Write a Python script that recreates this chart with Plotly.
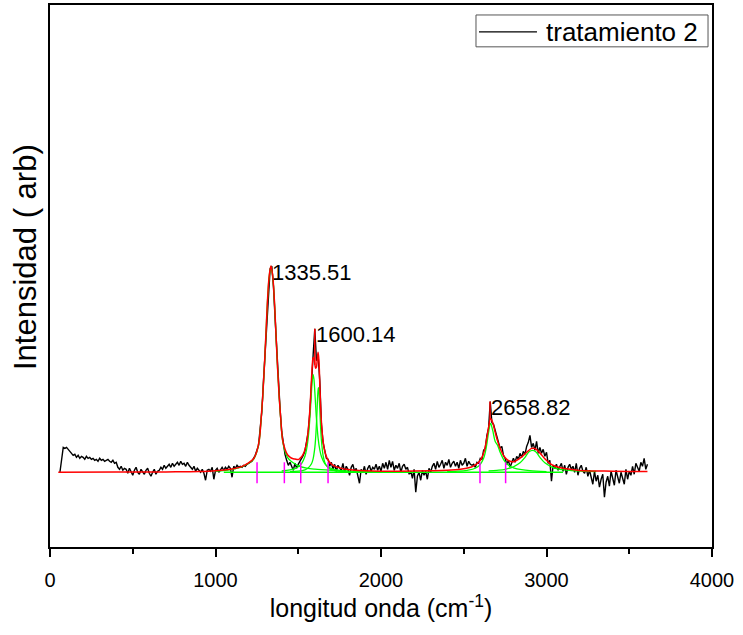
import plotly.graph_objects as go

# ---------------- data ----------------
# measured spectrum (sampled every 10 cm-1 from 60 to 3610)
wavenumber = list(range(60, 3620, 10))
intensity = [
    0, 14, 25, 24, 25, 23, 21, 19, 17, 18,
    15, 17, 14, 16, 15, 13, 16, 14, 15, 13,
    14, 12, 13, 11, 14, 12, 13, 11, 12, 13,
    11, 10, 12, 9, 10, 5, 3, 6, 2, 4,
    3, -1, 4, 1, -3, 2, 5, 0, -2, 3,
    1, -2, 2, 4, -1, -4, 0, 3, -2, 1,
    2, 5, 3, 7, 4, 6, 8, 5, 9, 6,
    8, 10, 7, 11, 8, 9, 6, 10, 7, 5,
    3, 6, 1, 4, 2, 0, 3, -1, -8, 2,
    3, 1, 5, -7, 2, 4, 0, 3, 5, 2,
    5, 3, 6, 4, -5, 6, 4, 7, 5, 6,
    5, 7, 6, 8, 9, 10, 11, 14, 17, 22,
    27, 44, 61, 92, 120, 160, 186, 204, 207, 187,
    155, 124, 88, 64, 41, 29, 18, 12, 7, 10,
    6, 2, 9, 4, 8, 11, 13, 17, 21, 29,
    40, 60, 95, 118, 144, 112, 117, 92, 48, 30,
    22, 14, 13, 6, 10, 3, 8, 1, 7, 4,
    2, 9, 0, 6, 3, -3, 5, 8, 1, 4,
    -4, -11, 3, 0, 6, -2, 4, 7, 1, 5,
    3, 8, 2, 6, 1, 9, 4, 10, 3, 12,
    5, 11, 2, 7, 4, 9, 0, 6, 8, 3,
    5, -2, 1, -6, 3, -20, -4, 0, -8, 2,
    -3, 1, -7, 4, 0, 6, 9, 3, 11, 5,
    8, 12, 4, 10, 7, 13, 5, 9, 11, 6,
    10, 4, 12, 7, 9, 14, 6, 11, 8, 7,
    8, 5, 10, 9, 14, 13, 22, 24, 37, 44,
    71, 50, 48, 41, 34, 30, 24, 26, 17, 14,
    8, 12, 5, 9, 14, 10, 16, 13, 19, 15,
    21, 18, 26, 30, 37, 25, 29, 22, 31, 19,
    25, 19, 23, 16, 20, 9, 12, -9, 7, 4,
    8, 2, 6, 9, 1, 7, -2, 5, 8, 3,
    6, 0, 9, -3, 4, 7, 1, -1, 5, -4,
    2, -6, -12, 1, -9, -3, -15, -7, -2, -25,
    -10, -4, -14, 1, -8, -13, 2, -6, -11, 0,
    -5, -12, 3, -7, 1, -3, 6, -2, 9, 4,
    1, 10, 6, 14, 3, 8,
]

# cumulative fit (red)
fit_x = [50, 400, 700, 900, 1000, 1100, 1150, 1200, 1230, 1250, 1265, 1275, 1285, 1295,
         1305, 1315, 1325, 1335, 1345, 1355, 1365, 1375, 1385, 1395, 1405, 1420, 1435,
         1450, 1465, 1480, 1500, 1510, 1520, 1530, 1540, 1550, 1560, 1570, 1580, 1585,
         1590, 1595, 1600, 1605, 1610, 1615, 1620, 1625, 1630, 1635, 1640, 1650, 1660,
         1670, 1680, 1700, 1720, 1750, 1800, 1900, 2000, 2100, 2300, 2400, 2480, 2530,
         2560, 2590, 2610, 2625, 2640, 2650, 2662, 2675, 2690, 2705, 2720, 2740, 2760,
         2780, 2800, 2820, 2850, 2880, 2910, 2930, 2960, 2990, 3020, 3050, 3080, 3120,
         3200, 3350, 3500, 3610]
fit_y = [0, 0.2, 0.4, 0.7, 1.5, 3.4, 5.2, 9.5, 13.5, 21, 33, 52, 75, 105,
         140, 175, 198, 207, 198, 175, 140, 105, 75, 52, 33, 23, 17.6,
         15.2, 13.8, 13.3, 12.8, 13.9, 15.5, 18.2, 22.5, 29.5, 41.6, 62.1, 93.2, 107.3,
         115, 114.4, 108.8, 104.4, 105.7, 113.7, 120.4, 111.8, 89.4, 67.1, 50.5, 31, 21.3,
         15.8, 12.3, 8.3, 6.1, 4.4, 2.8, 1.5, 1.0, 1.0, 1.5, 2.0, 3.0, 4.5,
         6.5, 10, 15, 22, 35, 45, 54, 50, 40, 31, 24, 17, 13,
         11, 10.5, 12, 15.5, 20, 24, 23.8, 19.5, 13.5, 9, 6.3, 4.8, 3.5,
         1.8, 1.2, 0.9, 0.8]

# fitted components (green)
comp1_x = [1000, 1100, 1150, 1200, 1230, 1250, 1265, 1275, 1285, 1295, 1305, 1315, 1325,
           1335, 1345, 1355, 1365, 1375, 1385, 1395, 1405, 1420, 1435, 1450, 1465, 1480,
           1500, 1550, 1600, 1700, 1800, 1900, 2000]
comp1_y = [1.0, 3.0, 4.8, 9, 13, 20.5, 32.5, 51.5, 74.5, 104.5, 139.5, 174.5, 197.5,
           206.5, 197.5, 174.5, 139.5, 104.5, 74.5, 51, 32, 21, 15, 12, 10, 8.5,
           6.5, 4.2, 3.1, 1.9, 1.1, 0.7, 0.5]
comp2_x = [1400, 1450, 1480, 1500, 1520, 1540, 1550, 1560, 1570, 1580, 1585, 1590, 1595,
           1600, 1605, 1610, 1620, 1630, 1640, 1660, 1680, 1700, 1750, 1800]
comp2_y = [1.3, 2.4, 3.7, 5.5, 8.8, 15.9, 22.7, 34.3, 53.7, 81.2, 93.2, 98, 93.2,
           81.2, 66.9, 53.7, 34.3, 22.7, 15.9, 8.8, 5.5, 3.8, 1.8, 1.1]
comp3_x = [1450, 1500, 1540, 1560, 1580, 1590, 1600, 1605, 1610, 1615, 1619, 1622, 1625,
           1630, 1635, 1640, 1650, 1660, 1670, 1690, 1720, 1780]
comp3_y = [0.6, 1.1, 2.4, 4.3, 8.5, 13.7, 24.5, 34.4, 49, 68, 81, 85, 81.3,
           64, 45.6, 32.1, 17, 10.2, 6.7, 3.4, 1.7, 0.7]
comp4_x = [2400, 2450, 2520, 2570, 2600, 2620, 2635, 2650, 2662, 2675, 2690, 2705, 2720,
           2740, 2760, 2780, 2800, 2850, 2900, 3000]
comp4_y = [0.6, 1.0, 2, 4, 8, 14, 24, 40, 49, 42, 31, 27, 20,
           13, 8.5, 6, 4.5, 2.6, 1.6, 0.7]
comp5_x = [2650, 2700, 2750, 2800, 2840, 2870, 2895, 2915, 2935, 2960, 2990, 3030, 3080,
           3150, 3300]
comp5_y = [1.4, 2, 3, 5.5, 9.5, 15, 20.5, 22, 20.5, 15, 9.5, 5.5, 3,
           1.8, 0.8]
baseline_x = [1050, 3100]
baseline_y = [0, 0]

# peak-width markers (magenta)
marker_x = [1251, 1416, 1515, 1680, 2598, 2753]
marker_low, marker_high = -11, 10

# peak labels
peak_x = [1335.51, 1600.14, 2658.82]
peak_top = [207, 144, 71]
peak_fit = [207, 108, 53]
peak_text = ["1335.51", "1600.14", "2658.82"]

series_name = "tratamiento 2"
x_title = "longitud onda (cm<sup>-1</sup>)"
y_title = "Intensidad ( arb)"
x_ticks = [0, 1000, 2000, 3000, 4000]

# ---------------- figure ----------------
FONT = "Liberation Sans, Arial, sans-serif"
fig = go.Figure()

fig.add_trace(go.Scatter(x=wavenumber, y=intensity, mode="lines",
                         line=dict(color="black", width=1.4), name=series_name,
                         showlegend=False))

fig.add_trace(go.Scatter(x=baseline_x, y=baseline_y, mode="lines",
                         line=dict(color="#00ff00", width=1.5), showlegend=False))
for cx, cy in [(comp1_x, comp1_y), (comp2_x, comp2_y), (comp3_x, comp3_y),
               (comp4_x, comp4_y), (comp5_x, comp5_y)]:
    fig.add_trace(go.Scatter(x=cx, y=cy, mode="lines", line_shape="spline",
                             line=dict(color="#00ff00", width=1.3), showlegend=False))

fig.add_trace(go.Scatter(x=fit_x, y=fit_y, mode="lines", line_shape="spline",
                         line=dict(color="#ff0000", width=1.5), showlegend=False))

# red spikes at labelled peaks
sx, sy = [], []
for px_, pf, pt in zip(peak_x, peak_fit, peak_top):
    sx += [px_, px_, None]
    sy += [pf, pt, None]
fig.add_trace(go.Scatter(x=sx, y=sy, mode="lines",
                         line=dict(color="#ff0000", width=1.5), showlegend=False))

mx, my = [], []
for m in marker_x:
    mx += [m, m, None]
    my += [marker_low, marker_high, None]
fig.add_trace(go.Scatter(x=mx, y=my, mode="lines",
                         line=dict(color="#ff00ff", width=1.5), showlegend=False))

for px_, pt, txt in zip(peak_x, peak_top, peak_text):
    fig.add_annotation(x=px_, y=pt, text=txt, showarrow=False, xanchor="left",
                       yanchor="middle", yshift=-6, xshift=-1,
                       font=dict(family=FONT, size=22, color="black"))

# manual legend
fig.add_shape(type="rect", xref="paper", yref="paper", x0=0.6435, x1=0.994,
              y0=0.9228, y1=0.9816, line=dict(color="#555555", width=1),
              fillcolor="white", layer="above")
fig.add_shape(type="line", xref="paper", yref="paper", x0=0.648, x1=0.7356,
              y0=0.9504, y1=0.9504, line=dict(color="black", width=1.2), layer="above")
fig.add_annotation(xref="paper", yref="paper", x=0.7465, y=0.9504, text=series_name,
                   showarrow=False, xanchor="left", yanchor="middle",
                   font=dict(family=FONT, size=26, color="black"))

# y-axis title
fig.add_annotation(xref="paper", yref="paper", x=-0.0378, y=0.535, text=y_title,
                   showarrow=False, textangle=-90, xanchor="center", yanchor="middle",
                   font=dict(family=FONT, size=31, color="black"))

fig.update_layout(
    width=743, height=635,
    margin=dict(l=50, r=31, t=3, b=88),
    paper_bgcolor="white", plot_bgcolor="white",
    font=dict(family=FONT, color="black"),
    showlegend=False,
)
fig.update_xaxes(range=[0, 4000], tickvals=x_ticks, ticks="outside", ticklen=8,
                 tickwidth=1.5, tickcolor="black", showline=True, linecolor="black",
                 linewidth=1.5, mirror=True, showgrid=False, zeroline=False,
                 tickfont=dict(family=FONT, size=20), ticklabelstandoff=6,
                 minor=dict(ticks="outside", ticklen=5, tickwidth=1.5, dtick=500,
                            tickcolor="black", showgrid=False),
                 title=dict(text=x_title, font=dict(family=FONT, size=25), standoff=4))
fig.update_yaxes(range=[-75, 469], showticklabels=False, ticks="", showline=True,
                 linecolor="black", linewidth=1.5, mirror=True, showgrid=False,
                 zeroline=False)

fig.write_html("out.html")
